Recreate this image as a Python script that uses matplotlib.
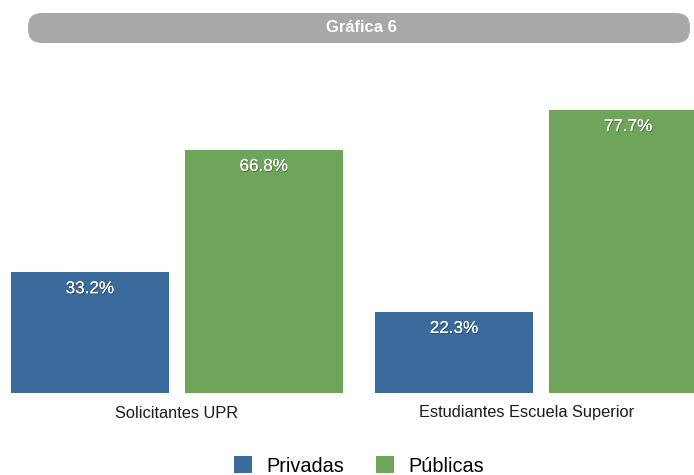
import matplotlib
matplotlib.use("Agg")
import matplotlib.pyplot as plt
import matplotlib.patheffects as pe
from matplotlib.patches import FancyBboxPatch, Patch
import numpy as np

# data
categories = ["Solicitantes UPR", "Estudiantes Escuela Superior"]
privadas = [33.2, 22.3]
publicas = [66.8, 77.7]
series_names = ["Privadas", "Públicas"]
title = "Gráfica 6"

BLUE = "#3A6B9C"
GREEN = "#6EA55A"
GRAY = "#A7A8A7"

plt.rcParams["font.family"] = ["Liberation Sans", "DejaVu Sans"]

fig = plt.figure(figsize=(6.94, 4.75), dpi=100)
ax = fig.add_axes([0, 82 / 475, 1, 333 / 475])

x = np.arange(len(categories))
w = 0.434
off = 0.239
b1 = ax.bar(x - off, privadas, w, color=BLUE)
b2 = ax.bar(x + off, publicas, w, color=GREEN)

for bars, vals in ((b1, privadas), (b2, publicas)):
    for b, v in zip(bars, vals):
        t = ax.annotate(f"{v}%", (b.get_x() + b.get_width() / 2, v),
                        xytext=(0, -12), textcoords="offset points",
                        ha="center", va="center", color="white", fontsize=12.3)
        t.set_path_effects([pe.withSimplePatchShadow(offset=(0.6, -0.8), shadow_rgbFace="black", alpha=0.3),
                            pe.Normal()])

ax.set_xlim(-0.486, 1.420)
ax.set_ylim(0, 91.4)
# second label sits a bit left of its group centre in the original
ax.set_xticks(x - np.array([0, 0.04]))
ax.set_xticklabels(categories, fontsize=11.8, color="#1a1a1a")
ax.tick_params(axis="x", length=0, pad=9)
ax.set_yticks([])
for s in ax.spines.values():
    s.set_visible(False)

# title pill
pill = FancyBboxPatch((28 / 694, (475 - 43) / 475), (690 - 28) / 694, 30 / 475,
                      boxstyle="round,pad=0,rounding_size=0.02", transform=fig.transFigure,
                      facecolor=GRAY, edgecolor="none", mutation_aspect=694 / 475)
fig.patches.append(pill)
fig.text(361 / 694, (475 - 27) / 475, title, ha="center", va="center",
         color="white", fontsize=12, fontweight="bold")

handles = [Patch(facecolor=BLUE, label=series_names[0]),
           Patch(facecolor=GREEN, label=series_names[1])]
fig.legend(handles=handles, loc="center", bbox_to_anchor=(359 / 694, (475 - 466) / 475),
           ncol=2, frameon=False, fontsize=14.3, handlelength=0.9, handleheight=0.9,
           handletextpad=0.75, columnspacing=1.6)

fig.savefig("out.png", dpi=100)
